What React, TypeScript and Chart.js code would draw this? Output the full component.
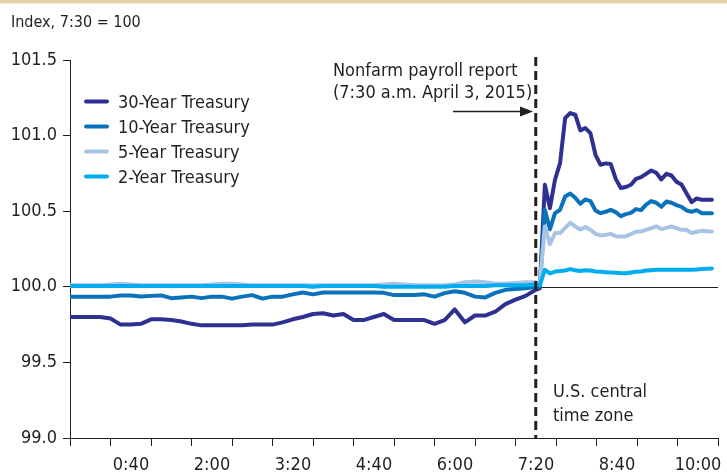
import React, { useEffect, useRef } from 'react';
import { Chart, registerables } from 'chart.js';

Chart.register(...registerables);

// Minutes after midnight (U.S. central time). Event line at 440.
const minutes = [
  -20, -10, 0, 10, 20, 30, 40, 50, 60, 70, 80, 90, 100, 110, 120, 130, 140, 150, 160, 170,
  180, 190, 200, 210, 220, 230, 240, 250, 260, 270, 280, 290, 300, 310, 320, 330, 340, 350,
  360, 370, 380, 390, 400, 410, 420, 430, 440, 444,
  449, 454, 459, 464, 469, 474, 479, 484, 489, 494, 499, 504, 509, 514, 519, 524, 529, 534,
  539, 544, 549, 554, 559, 564, 569, 574, 579, 584, 589, 594, 599, 604, 609, 614,
];

const treasury30 = [
  99.8, 99.8, 99.8, 99.8, 99.79, 99.75, 99.75, 99.755, 99.785, 99.785, 99.78, 99.77, 99.755,
  99.745, 99.745, 99.745, 99.745, 99.745, 99.75, 99.75, 99.75, 99.765, 99.785, 99.8, 99.82,
  99.825, 99.81, 99.82, 99.78, 99.78, 99.8, 99.82, 99.78, 99.78, 99.78, 99.78, 99.755, 99.78,
  99.85, 99.765, 99.81, 99.81, 99.835, 99.885, 99.915, 99.94, 99.98, 99.99,
  100.675, 100.52, 100.708, 100.818, 101.115, 101.149, 101.138, 101.034, 101.05, 101.016,
  100.873, 100.807, 100.816, 100.813, 100.714, 100.653, 100.66, 100.675, 100.714, 100.725,
  100.747, 100.769, 100.754, 100.71, 100.747, 100.736, 100.694, 100.676, 100.617, 100.56,
  100.584, 100.575, 100.575, 100.575,
];

const treasury10 = [
  99.935, 99.935, 99.935, 99.935, 99.935, 99.943, 99.943, 99.936, 99.94, 99.943, 99.925, 99.93,
  99.935, 99.925, 99.935, 99.935, 99.922, 99.935, 99.945, 99.922, 99.935, 99.935, 99.95, 99.962,
  99.95, 99.962, 99.962, 99.962, 99.962, 99.962, 99.962, 99.96, 99.945, 99.945, 99.945, 99.95,
  99.935, 99.958, 99.97, 99.96, 99.935, 99.93, 99.96, 99.98, 99.985, 99.99, 100.0, 100.0,
  100.509, 100.381, 100.487, 100.509, 100.597, 100.617, 100.589, 100.549, 100.578, 100.567,
  100.505, 100.487, 100.496, 100.509, 100.494, 100.467, 100.481, 100.489, 100.514, 100.507,
  100.544, 100.567, 100.556, 100.529, 100.564, 100.556, 100.54, 100.529, 100.505, 100.496,
  100.507, 100.487, 100.487, 100.487,
];

const treasury5 = [
  100.01, 100.01, 100.01, 100.01, 100.015, 100.02, 100.015, 100.01, 100.01, 100.01, 100.01,
  100.01, 100.01, 100.01, 100.015, 100.02, 100.02, 100.015, 100.01, 100.01, 100.01, 100.01,
  100.01, 100.01, 100.01, 100.01, 100.01, 100.01, 100.01, 100.01, 100.01, 100.015, 100.02,
  100.015, 100.01, 100.01, 100.01, 100.01, 100.015, 100.03, 100.035, 100.03, 100.02, 100.02,
  100.025, 100.03, 100.03, 100.02,
  100.399, 100.282, 100.355, 100.355, 100.39, 100.423, 100.399, 100.379, 100.395, 100.377,
  100.35, 100.34, 100.344, 100.35, 100.335, 100.333, 100.335, 100.348, 100.364, 100.366,
  100.377, 100.388, 100.4, 100.382, 100.39, 100.399, 100.388, 100.377, 100.377, 100.355,
  100.364, 100.37, 100.368, 100.366,
];

const treasury2 = [
  100.005, 100.005, 100.005, 100.005, 100.005, 100.005, 100.005, 100.005, 100.005, 100.005,
  100.005, 100.005, 100.005, 100.005, 100.005, 100.005, 100.005, 100.005, 100.005, 100.005,
  100.005, 100.005, 100.005, 100.005, 100.0, 100.005, 100.005, 100.005, 100.005, 100.005,
  100.005, 100.0, 100.0, 100.0, 100.0, 100.0, 100.0, 100.0, 100.005, 100.005, 100.005, 100.005,
  100.01, 100.01, 100.01, 100.01, 100.015, 100.01,
  100.112, 100.088, 100.101, 100.104, 100.108, 100.117, 100.11, 100.104, 100.11, 100.108,
  100.101, 100.099, 100.097, 100.095, 100.093, 100.09, 100.09, 100.095, 100.099, 100.101,
  100.108, 100.11, 100.112, 100.112, 100.112, 100.112, 100.112, 100.112, 100.112, 100.112,
  100.114, 100.117, 100.119, 100.121,
];

const seriesNames = ['30-Year Treasury', '10-Year Treasury', '5-Year Treasury', '2-Year Treasury'];
const seriesColors = ['#2e3192', '#0a72bb', '#a8c4e5', '#00adef'];

const xTickMarks = [-20, 20, 60, 100, 140, 180, 220, 260, 300, 340, 380, 420, 460, 500, 540, 580, 620];
const xLabelMinutes = [40, 120, 200, 280, 360, 440, 520, 600];
const xLabelTexts = ['0:40', '2:00', '3:20', '4:40', '6:00', '7:20', '8:40', '10:00'];

const eventMinute = 440;
const baseIndex = 100;

const FONT = '"Liberation Sans Narrow", "Arial Narrow", "DejaVu Sans Condensed", sans-serif';
const INK = '#231f20';

const annotationPlugin = {
  id: 'annotations',
  beforeDatasetsDraw(chart: any) {
    const { ctx, chartArea, scales } = chart;
    const x0 = scales.x.getPixelForValue(eventMinute);
    const y0 = scales.y.getPixelForValue(baseIndex);
    ctx.save();
    ctx.strokeStyle = INK;
    ctx.lineWidth = 1;
    ctx.beginPath();
    ctx.moveTo(x0, Math.round(y0) + 0.5);
    ctx.lineTo(chartArea.right, Math.round(y0) + 0.5);
    ctx.stroke();
    ctx.restore();
  },
  afterDatasetsDraw(chart: any) {
    const { ctx, chartArea, scales } = chart;
    const x0 = scales.x.getPixelForValue(eventMinute);
    ctx.save();
    ctx.strokeStyle = INK;
    ctx.lineWidth = 3;
    ctx.setLineDash([9, 5]);
    ctx.beginPath();
    ctx.moveTo(x0, 57);
    ctx.lineTo(x0, chartArea.bottom);
    ctx.stroke();
    ctx.restore();
  },
  afterDraw(chart: any) {
    const { ctx } = chart;
    ctx.save();
    // top band
    ctx.fillStyle = '#e4d2aa';
    ctx.fillRect(0, 0, chart.width, 3.5);

    ctx.fillStyle = INK;
    ctx.textAlign = 'left';
    ctx.textBaseline = 'alphabetic';
    ctx.font = `16px ${FONT}`;
    ctx.fillText('Index, 7:30 = 100', 11, 27);

    // legend
    ctx.font = `18px ${FONT}`;
    seriesNames.forEach((name, i) => {
      const y = 101.5 + 25 * i;
      ctx.strokeStyle = seriesColors[i];
      ctx.lineWidth = 4;
      ctx.lineCap = 'round';
      ctx.beginPath();
      ctx.moveTo(86, y);
      ctx.lineTo(107, y);
      ctx.stroke();
      ctx.fillStyle = INK;
      ctx.fillText(name, 118, y + 6);
    });

    // event annotation
    ctx.fillStyle = INK;
    ctx.fillText('Nonfarm payroll report', 333, 76);
    ctx.fillText('(7:30 a.m. April 3, 2015)', 333, 98);
    ctx.fillText('U.S. central', 553, 397);
    ctx.fillText('time zone', 553, 421);

    // arrow
    ctx.strokeStyle = INK;
    ctx.lineWidth = 1.5;
    ctx.lineCap = 'butt';
    ctx.beginPath();
    ctx.moveTo(453, 111.5);
    ctx.lineTo(522, 111.5);
    ctx.stroke();
    ctx.beginPath();
    ctx.moveTo(533, 111.5);
    ctx.lineTo(520, 106.5);
    ctx.lineTo(520, 116.5);
    ctx.closePath();
    ctx.fill();
    ctx.restore();
  },
};

function makeData(values: number[]) {
  return minutes.map((m, i) => ({ x: m, y: values[i] }));
}

export default function App() {
  const ref = useRef<HTMLCanvasElement>(null);
  useEffect(() => {
    document.body.style.margin = '0';
    const seriesValues = [treasury30, treasury10, treasury5, treasury2];
    const order = [3, 2, 1, 0]; // 2-Year drawn on top
    const chart = new Chart(ref.current as HTMLCanvasElement, {
      type: 'line',
      data: {
        datasets: order.map((i) => ({
          label: seriesNames[i],
          data: makeData(seriesValues[i]),
          borderColor: seriesColors[i],
          backgroundColor: seriesColors[i],
          borderWidth: 4,
          pointRadius: 0,
          tension: 0,
          fill: false,
          borderJoinStyle: 'round',
          borderCapStyle: 'round',
        })),
      },
      options: {
        responsive: false,
        animation: false,
        devicePixelRatio: 1,
        layout: { padding: { top: 60, right: 1, left: 0, bottom: 0 } },
        plugins: {
          legend: { display: false },
          tooltip: { enabled: false },
        },
        scales: {
          x: {
            type: 'linear',
            min: -20,
            max: 620,
            afterBuildTicks: (s: any) => {
              s.ticks = xTickMarks.map((v) => ({ value: v }));
            },
            afterFit: (s: any) => {
              s.height = 36;
            },
            ticks: {
              autoSkip: false,
              maxRotation: 0,
              minRotation: 0,
              labelOffset: 20.5,
              padding: 9,
              color: INK,
              font: { family: FONT, size: 18 },
              callback: (v: any) => {
                const idx = xLabelMinutes.findIndex((m) => m - 20 === Number(v));
                return idx >= 0 ? xLabelTexts[idx] : '';
              },
            },
            grid: {
              drawOnChartArea: false,
              drawTicks: true,
              tickLength: 8,
              color: INK,
              lineWidth: 1,
            },
            border: { display: true, color: INK, width: 1 },
          },
          y: {
            min: 99,
            max: 101.5,
            afterFit: (s: any) => {
              s.width = 70;
            },
            ticks: {
              stepSize: 0.5,
              padding: 6,
              color: INK,
              font: { family: FONT, size: 18 },
              callback: (v: any) => Number(v).toFixed(1),
            },
            grid: {
              drawOnChartArea: false,
              drawTicks: true,
              tickLength: 7,
              color: INK,
              lineWidth: 1,
            },
            border: { display: true, color: INK, width: 1 },
          },
        },
      } as any,
      plugins: [annotationPlugin],
    });
    return () => chart.destroy();
  }, []);

  return (
    <div style={{ width: 727, height: 474, position: 'relative', background: '#fff' }}>
      <canvas ref={ref} width={727} height={474} style={{ display: 'block' }} />
    </div>
  );
}
